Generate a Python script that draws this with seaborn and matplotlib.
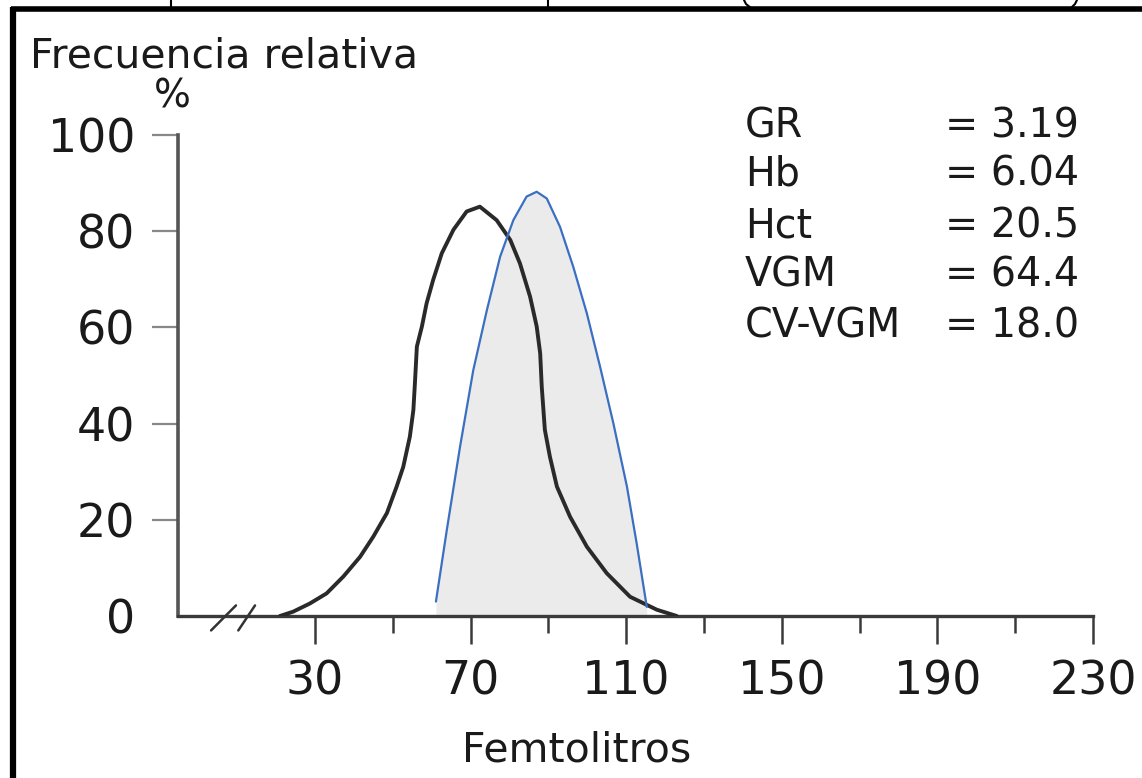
import numpy as np
import pandas as pd
import matplotlib
matplotlib.use("Agg")
import matplotlib.pyplot as plt
from matplotlib.lines import Line2D
import seaborn as sns

# ---------------- data ----------------
black_x = [21.0, 24.4, 28.7, 33.0, 37.3, 41.6, 45.0, 48.5, 51.0, 52.7, 54.4, 55.3,
           55.7, 56.2, 57.5, 58.7, 60.4, 62.6, 65.6, 69.0, 72.4, 76.7, 80.2, 82.7,
           85.3, 87.0, 87.9, 88.3, 89.1, 90.4, 92.2, 95.6, 99.9, 105.0, 111.0,
           117.9, 123.0]
black_y = [0.0, 0.9, 2.6, 4.7, 8.2, 12.3, 16.5, 21.4, 26.9, 31.0, 37.3, 42.8,
           48.4, 56.0, 60.2, 65.0, 69.9, 75.4, 80.3, 84.1, 85.1, 82.3, 78.2, 73.3,
           66.4, 60.2, 54.6, 47.7, 38.7, 33.1, 26.9, 20.6, 14.4, 8.9, 4.0,
           1.3, 0.0]

blue_x = [61.1, 63.9, 67.3, 70.7, 74.2, 77.6, 81.0, 84.4, 87.0, 89.6, 93.0, 96.4,
          99.9, 103.3, 106.7, 110.2, 112.7, 115.3]
blue_y = [3.0, 17.9, 35.2, 51.1, 63.6, 74.7, 82.3, 87.2, 88.2, 86.8, 80.9, 72.6,
          62.9, 51.8, 40.1, 26.9, 15.1, 1.9]

x_major = [30, 70, 110, 150, 190, 230]
x_minor = [50, 90, 130, 170, 210]
y_ticks = [0, 20, 40, 60, 80, 100]

stat_names = ["GR", "Hb", "Hct", "VGM", "CV-VGM"]
stat_values = ["= 3.19", "= 6.04", "= 20.5", "= 64.4", "= 18.0"]

y_title = "Frecuencia relativa"
y_unit = "%"
x_title = "Femtolitros"

# ---------------- style ----------------
sns.set_theme(style="white")
plt.rcParams["font.family"] = ["DejaVu Sans"]

W, H = 1142, 778
fig = plt.figure(figsize=(W / 100, H / 100), dpi=100)
fig.patch.set_facecolor("white")

def fx(px):
    return px / W

def fy(py):
    return 1 - py / H

ax_left, ax_right, ax_top, ax_bottom = 178, 1093, 135, 616
ax = fig.add_axes([fx(ax_left), fy(ax_bottom), (ax_right - ax_left) / W, (ax_bottom - ax_top) / H])
ax.set_facecolor("none")

df_black = pd.DataFrame({"x": black_x, "y": black_y})
df_blue = pd.DataFrame({"x": blue_x, "y": blue_y})

ax.fill_between(df_blue["x"], df_blue["y"], 0, color="#ebebeb", lw=0, zorder=1)
sns.lineplot(data=df_black, x="x", y="y", ax=ax, color="#2a2a2a", lw=2.8,
             estimator=None, sort=False, zorder=3,
             solid_joinstyle="round", solid_capstyle="round")
sns.lineplot(data=df_blue, x="x", y="y", ax=ax, color="#3a6fc2", lw=1.6,
             estimator=None, sort=False, zorder=4,
             solid_joinstyle="round")

ax.set_xlim(-5.2, 230)
ax.set_ylim(0, 100)
ax.set_xlabel("")
ax.set_ylabel("")

for s in ["top", "right"]:
    ax.spines[s].set_visible(False)
ax.spines["left"].set_color("#555555")
ax.spines["left"].set_linewidth(2.6)
ax.spines["bottom"].set_color("#3a3a3a")
ax.spines["bottom"].set_linewidth(2.4)

ax.set_xticks(x_major)
ax.set_xticks(x_minor, minor=True)
ax.set_xticklabels([str(v) for v in x_major])
ax.set_yticks(y_ticks)
ax.set_yticklabels([str(v) for v in y_ticks])

ax.tick_params(axis="x", which="major", direction="out", length=20, width=1.8,
               color="#3a3a3a", labelsize=33, labelcolor="#1a1a1a", pad=11,
               bottom=True)
ax.tick_params(axis="x", which="minor", direction="out", length=12, width=1.8,
               color="#3a3a3a", bottom=True)
ax.tick_params(axis="y", which="major", direction="out", length=19, width=1.6,
               color="#888888", labelsize=33, labelcolor="#1a1a1a", pad=12,
               left=True)
ax.yaxis.get_major_ticks()[0].tick1line.set_visible(False)

# axis break marks on the x axis
for x0, x1 in [(3.3, 9.7), (10.3, 14.6)]:
    ax.plot([x0, x1], [-3.0, 2.2], color="#333333", lw=1.8, clip_on=False, zorder=5)

# texts
fig.text(fx(30), fy(68), y_title, fontsize=29.5, color="#1a1a1a", ha="left", va="baseline")
fig.text(fx(172), fy(108), y_unit, fontsize=28, color="#1a1a1a", ha="center", va="baseline")
fig.text(fx(462), fy(762), x_title, fontsize=29.5, color="#1a1a1a", ha="left", va="baseline")

baselines = [137, 186, 237, 287, 337]
for name, val, b in zip(stat_names, stat_values, baselines):
    fig.text(fx(745), fy(b), name, fontsize=28.5, color="#1a1a1a", ha="left", va="baseline")
    fig.text(fx(945), fy(b), val, fontsize=28.5, color="#1a1a1a", ha="left", va="baseline")

# frame remnants
fig.add_artist(Line2D([fx(13), fx(13)], [0, fy(6.5)], color="black", lw=4.5,
                      solid_capstyle="butt", transform=fig.transFigure))
fig.add_artist(Line2D([fx(10.8), 1], [fy(8.5), fy(8.5)], color="black", lw=4.0,
                      solid_capstyle="butt", transform=fig.transFigure))
fig.add_artist(Line2D([fx(171), fx(171)], [1, fy(8)], color="black", lw=1.5, transform=fig.transFigure))
fig.add_artist(Line2D([fx(548), fx(548)], [1, fy(8)], color="black", lw=1.5, transform=fig.transFigure))
fig.add_artist(Line2D([fx(744), fx(746), fx(751)], [1, fy(4), fy(8)], color="black", lw=1.5, transform=fig.transFigure))
fig.add_artist(Line2D([fx(1077), fx(1075), fx(1071)], [1, fy(4), fy(8)], color="black", lw=1.5, transform=fig.transFigure))

fig.savefig("out.png", dpi=100, facecolor="white")
